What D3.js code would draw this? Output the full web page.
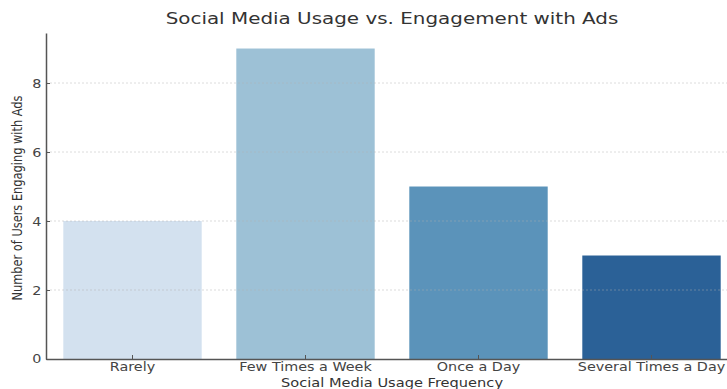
<!DOCTYPE html>
<html>
<head>
<meta charset="utf-8">
<script src="https://cdn.jsdelivr.net/npm/d3@7"></script>
<style>
  body { margin: 0; background: #fff; }
  text { font-family: "DejaVu Sans", sans-serif; }
</style>
</head>
<body>
<div id="chart"></div>
<script>
// chart data
const categories = ["Rarely", "Few Times a Week", "Once a Day", "Several Times a Day"];
const users = [4, 9, 5, 3];
const barColors = ["#d3e1ef", "#9dc1d6", "#5b93ba", "#2b6197"];
const yTicks = [0, 2, 4, 6, 8];

// the picture is a little wider than tall, text too
const sx = 1.26;

const W = 727, H = 389;
const margin = {top: 33, left: 46, bottom: 30};
const plotBottom = H - margin.bottom;

const svg = d3.select("#chart")
  .append("svg")
    .attr("width", W)
    .attr("height", H);

const x = d3.scaleBand()
  .domain(categories)
  .range([margin.left, 738])
  .paddingInner(0.2)
  .paddingOuter(0.1);

const y = d3.scaleLinear()
  .domain([0, d3.max(users) * 1.05])
  .range([plotBottom, margin.top]);

// bars
svg.selectAll("rect.bar")
  .data(categories)
  .join("rect")
    .attr("class", "bar")
    .attr("x", d => x(d))
    .attr("y", (d, i) => y(users[i]))
    .attr("width", x.bandwidth())
    .attr("height", (d, i) => plotBottom - y(users[i]))
    .attr("fill", (d, i) => barColors[i]);

// grid, drawn over the bars
svg.append("g")
  .selectAll("line")
  .data(yTicks.filter(t => t > 0))
  .join("line")
    .attr("x1", margin.left)
    .attr("x2", W)
    .attr("y1", d => y(d))
    .attr("y2", d => y(d))
    .attr("stroke", "#b0b0b0")
    .attr("stroke-opacity", 0.45)
    .attr("stroke-width", 1)
    .attr("stroke-dasharray", "2,2");

// helper to stretch a text around its anchor
function stretch(sel) {
  sel.each(function() {
    const t = d3.select(this);
    const tx = +t.attr("x") || 0, ty = +t.attr("y") || 0;
    t.attr("x", 0).attr("y", 0)
      .attr("transform", `translate(${tx},${ty}) scale(${sx},1)`);
  });
}

// y axis
const yAxis = svg.append("g")
  .attr("transform", `translate(${margin.left},0)`)
  .call(d3.axisLeft(y).tickValues(yTicks).tickSizeInner(-4).tickSizeOuter(0).tickPadding(4.5));
yAxis.select(".domain").attr("stroke", "#555").attr("stroke-width", 1.5);
yAxis.selectAll(".tick line").attr("stroke", "#555");
yAxis.selectAll(".tick text")
  .attr("fill", "#444")
  .style("font-size", "11.4px")
  .attr("dy", "0.35em")
  .call(stretch);

// x axis
const xAxis = svg.append("g")
  .attr("transform", `translate(0,${plotBottom})`)
  .call(d3.axisBottom(x).tickSizeInner(-4).tickSizeOuter(0).tickPadding(3.5));
xAxis.select(".domain").attr("stroke", "#555").attr("stroke-width", 1.5);
xAxis.selectAll(".tick line").attr("stroke", "#555");
xAxis.selectAll(".tick text")
  .attr("fill", "#444")
  .style("font-size", "11.4px")
  .attr("dy", "0.71em")
  .call(stretch);

// title
svg.append("text")
  .attr("transform", `translate(392,24) scale(${sx},1)`)
  .attr("text-anchor", "middle")
  .attr("fill", "#333")
  .style("font-size", "15.8px")
  .text("Social Media Usage vs. Engagement with Ads");

// x label
svg.append("text")
  .attr("transform", `translate(392,387) scale(${sx},1)`)
  .attr("text-anchor", "middle")
  .attr("fill", "#333")
  .style("font-size", "11.6px")
  .text("Social Media Usage Frequency");

// y label
svg.append("text")
  .attr("transform", `translate(22,198) scale(${sx},1) rotate(-90)`)
  .attr("text-anchor", "middle")
  .attr("fill", "#333")
  .style("font-size", "11.4px")
  .text("Number of Users Engaging with Ads");
</script>
</body>
</html>
